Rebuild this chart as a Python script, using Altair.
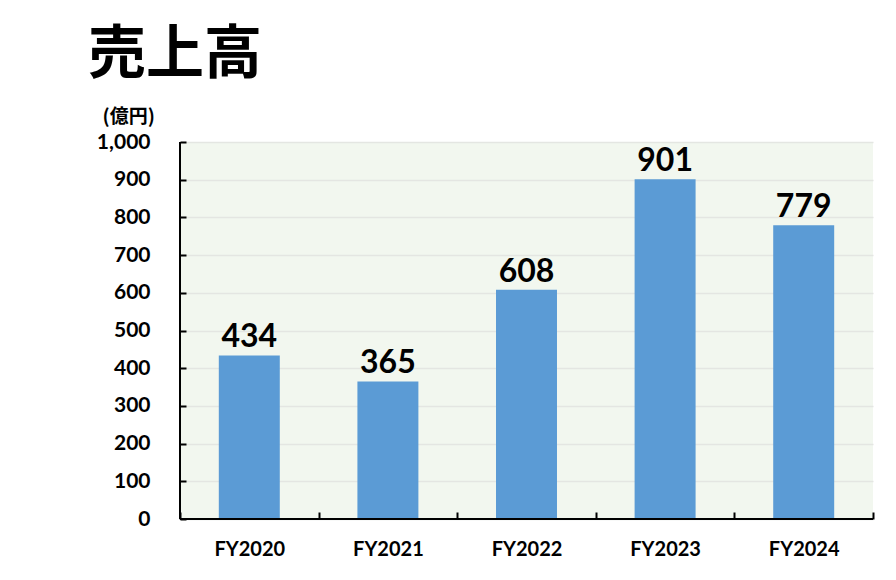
import altair as alt
import pandas as pd

years = ["FY2020", "FY2021", "FY2022", "FY2023", "FY2024"]
sales = [434, 365, 608, 901, 779]
y_ticks = [0, 100, 200, 300, 400, 500, 600, 700, 800, 900, 1000]

df = pd.DataFrame({"year": years, "sales": sales})

W, H = 693, 377
FONT = "Lato"
BG = "#F2F7EF"

x_enc = alt.X(
    "year:N", sort=years, title=None,
    scale=alt.Scale(paddingInner=0, paddingOuter=0),
    axis=alt.Axis(
        labelAngle=0, labelFont=FONT, labelFontSize=20, labelFontWeight="bold",
        labelColor="black", tickBand="extent", tickSize=7, offset=-7,
        tickColor="black", tickWidth=2, domain=False, grid=False,
        labelPadding=20, labelBaseline="top", labelOverlap=False,
    ),
)
y_enc = alt.Y(
    "sales:Q", title="(億円)",
    scale=alt.Scale(domain=[0, 1000], nice=False),
    axis=alt.Axis(
        values=y_ticks, tickCount=11, format=",.0f", labelFont=FONT,
        labelFontSize=21, labelFontWeight="bold", labelColor="black",
        tickSize=6, offset=-6, tickColor="black", tickWidth=2, domain=False,
        labelPadding=30, labelOverlap=False, labelFlush=False,
        grid=True, gridColor="#E4E6E2", gridWidth=1.5,
        titleAngle=0, titleFont="Noto Sans CJK JP", titleFontSize=19,
        titleFontWeight="bold", titleColor="black", titleAlign="left",
        titleBaseline="alphabetic", titleX=-84, titleY=-20,
    ),
)

bars = alt.Chart(df).mark_bar(
    color="#5B9BD5", width=alt.RelativeBandSize(0.44)
).encode(x=x_enc, y=y_enc)

labels = alt.Chart(df).mark_text(
    font=FONT, fontSize=32, fontWeight="bold", color="black",
    baseline="alphabetic", dy=-8,
).encode(x=x_enc, y=y_enc, text="sales:Q")

left_line = alt.Chart(df).mark_rule(color="black", strokeWidth=2).encode(
    x=alt.value(0), y=alt.value(0), y2=alt.value(H)
)
bottom_line = alt.Chart(df).mark_rule(color="black", strokeWidth=2).encode(
    x=alt.value(0), x2=alt.value(W), y=alt.value(H)
)

chart = alt.layer(bars, labels, left_line, bottom_line).properties(
    width=W, height=H,
    view=alt.ViewBackground(fill=BG, stroke=None),
    title=alt.TitleParams(
        text="売上高", anchor="start", frame="group", dx=-92,
        font="Noto Sans CJK JP", fontSize=58, fontWeight="bold",
        color="black", offset=22,
    ),
    autosize=alt.AutoSizeParams(type="none"),
    padding={"left": 172, "top": 134, "right": 10, "bottom": 50},
).configure_view(fill=BG, stroke=None).configure(background="white")

chart.save("out.html", embed_options={"renderer": "svg", "actions": False})
